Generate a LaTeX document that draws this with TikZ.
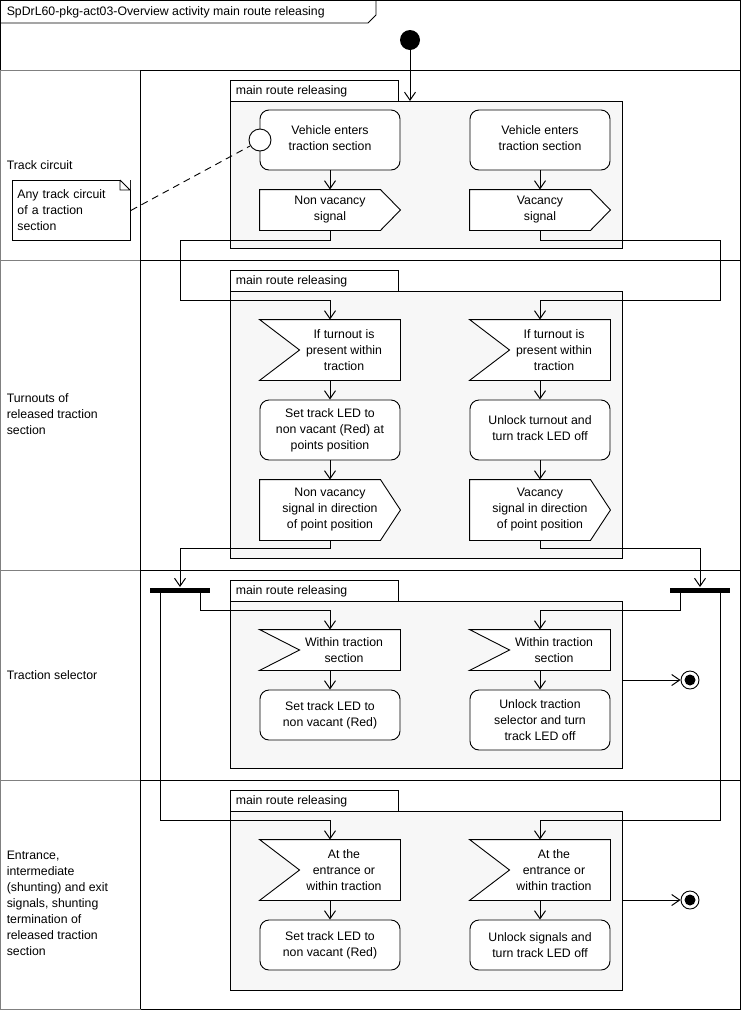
\documentclass[tikz,border=0pt]{standalone}
\usepackage{fontspec}
\setmainfont{Liberation Sans}
\usetikzlibrary{arrows.meta}
\begin{document}
\begin{tikzpicture}[x=1pt,y=-1pt,
  font=\fontsize{12.3}{16}\selectfont,
  act/.style={draw,rounded corners=9pt,fill=white,align=center,inner sep=0pt},
  sig/.style={draw=none,align=center,inner sep=0pt},
  pkg/.style={draw,fill=black!3},
  flow/.style={-{Straight Barb[length=8pt,width=11pt]},line width=1pt},
  line width=0.9pt]
\useasboundingbox (0,0) rectangle (741,1010);
\fill[white] (0,0) rectangle (741,1010);
% frame
\draw (0.5,0.5) rectangle (740,1009);
\draw (0.5,23) -- (368,23) -- (376,15) -- (376,0.5);
\node[anchor=west] (title) at (3,12) {SpDrL60-pkg-act03-Overview activity main route releasing};
% lanes
\draw[black!50] (0.5,70) rectangle (140,1009);
\foreach \y in {260,570,780} \draw[black!50] (0.5,\y) -- (140,\y);
\draw (140,70) -- (740,70);
\foreach \y in {260,570,780} \draw (140,\y) -- (740,\y);
\draw (140,70) -- (140,1009);
\node[anchor=west] (l1) at (3,165) {Track circuit};
\node[anchor=west,align=left] (l2) at (3,414) {Turnouts of\\released traction\\section};
\node[anchor=west,align=left] (l3) at (3,675) {Traction selector};
\node[anchor=west,align=left] (l4) at (3,903) {Entrance,\\intermediate\\(shunting) and exit\\signals, shunting\\termination of\\released traction\\section};
% packages
\foreach \t/\b in {80/248,270/558,580/768,790/990}{
  \draw[fill=white] (230,\t) rectangle (398,\t+21);
  \draw[pkg] (230,\t+21) rectangle (622,\b);
  \node[anchor=west] at (232,\t+11) {main route releasing};
}
% macros
\newcommand\mysend[6]{\node[sig,minimum width=#4-#2,minimum height=#5-#3] (#1) at ({(#2+#4)/2},{(#3+#5)/2}) {};
  \draw[fill=white] (#1.north west) -- ([xshift=-20]#1.north east) -- (#1.east) -- ([xshift=-20]#1.south east) -- (#1.south west) -- cycle;
  \node[align=center] at ([xshift=0]#1.center) {#6};}
\newcommand\myrecv[6]{\node[sig,minimum width=#4-#2,minimum height=#5-#3] (#1) at ({(#2+#4)/2},{(#3+#5)/2}) {};
  \draw[fill=white] (#1.north west) -- (#1.north east) -- (#1.south east) -- (#1.south west) -- ([xshift=40]#1.west) -- cycle;
  \node[align=center] at ([xshift=14]#1.center) {#6};}
\newcommand\myact[6]{\node[act,minimum width=#4-#2,minimum height=#5-#3] (#1) at ({(#2+#4)/2},{(#3+#5)/2}) {#6};}
% initial
\fill (410,40) circle (10);
\coordinate (init) at (410,50);
\coordinate (p1) at (410,101);
\draw[flow] (init) -- (p1);
% lane 1
\myact{a1}{260}{110}{400}{170}{Vehicle enters\\traction section\\[-12pt]}
\myact{b1}{470}{110}{610}{170}{Vehicle enters\\traction section\\[-12pt]}
\mysend{a2}{260}{190}{400}{230}{Non vacancy\\signal}
\mysend{b2}{470}{190}{610}{230}{Vacancy\\signal}
\draw[flow] (a1) -- (a2);
\draw[flow] (b1) -- (b2);
\draw[fill=white] (260,140) circle (11);
\coordinate (pin) at (250,146);
\node[draw,fill=white,align=left,minimum width=118,minimum height=60,anchor=north west,inner sep=3pt,text width=108] (note) at (12,180) {Any track circuit\\of a traction\\section};
\fill[white] (120,180) -- (130,190) -- (130,180) -- cycle;
\draw (120,180) -- (120,190) -- (130,190) -- (120,180);
\draw[dash pattern=on 7pt off 5pt] (note.east) -- (pin);
% lane 2
\myrecv{a3}{260}{320}{400}{380}{If turnout is\\present within\\traction}
\myrecv{b3}{470}{320}{610}{380}{If turnout is\\present within\\traction}
\myact{a4}{260}{400}{400}{460}{Set track LED to\\non vacant (Red) at\\points position}
\myact{b4}{470}{400}{610}{460}{Unlock turnout and\\turn track LED off\\[-12pt]}
\mysend{a5}{260}{480}{400}{540}{Non vacancy\\signal in direction\\of point position}
\mysend{b5}{470}{480}{610}{540}{Vacancy\\signal in direction\\of point position}
\draw[flow] (a2.south) -- ++(0,10) -| (180,300) -| (a3.north);
\draw[flow] (b2.south) -- ++(0,10) -| (720,300) -| (b3.north);
\draw[flow] (a3) -- (a4);
\draw[flow] (b3) -- (b4);
\draw[flow] (a4) -- (a5);
\draw[flow] (b4) -- (b5);
% forks
\node[fill,minimum width=60,minimum height=5,inner sep=0pt] (f1) at (180,590) {};
\node[fill,minimum width=60,minimum height=5,inner sep=0pt] (f2) at (700,590) {};
\draw[flow] (a5.south) -- ++(0,8) -| (f1.north);
\draw[flow] (b5.south) -- ++(0,8) -| (f2.north);
% lane 3
\myrecv{a6}{260}{630}{400}{670}{Within traction\\section}
\myrecv{b6}{470}{630}{610}{670}{Within traction\\section}
\myact{a7}{260}{690}{400}{740}{Set track LED to\\non vacant (Red)}
\myact{b7}{470}{690}{610}{750}{Unlock traction\\selector and turn\\track LED off}
\draw[flow] ([xshift=20]f1.south) |- (330,610) -- (a6.north);
\draw[flow] ([xshift=-20]f2.south) |- (540,610) -- (b6.north);
\draw[flow] (a6) -- (a7);
\draw[flow] (b6) -- (b7);
\node[circle,draw,minimum size=18,inner sep=0pt] (e1) at (690,680) {};
\fill (690,680) circle (5.5);
\coordinate (x1) at (622,680);
\draw[flow] (x1) -- (e1);
% lane 4
\myrecv{a8}{260}{840}{400}{900}{At the\\entrance or\\within traction}
\myrecv{b8}{470}{840}{610}{900}{At the\\entrance or\\within traction}
\myact{a9}{260}{920}{400}{970}{Set track LED to\\non vacant (Red)}
\myact{b9}{470}{920}{610}{970}{Unlock signals and\\turn track LED off}
\draw[flow] ([xshift=-20]f1.south) |- (330,820) -- (a8.north);
\draw[flow] ([xshift=20]f2.south) |- (540,820) -- (b8.north);
\draw[flow] (a8) -- (a9);
\draw[flow] (b8) -- (b9);
\node[circle,draw,minimum size=18,inner sep=0pt] (e2) at (690,900) {};
\fill (690,900) circle (5.5);
\coordinate (x2) at (622,900);
\draw[flow] (x2) -- (e2);
\end{tikzpicture}
\end{document}
